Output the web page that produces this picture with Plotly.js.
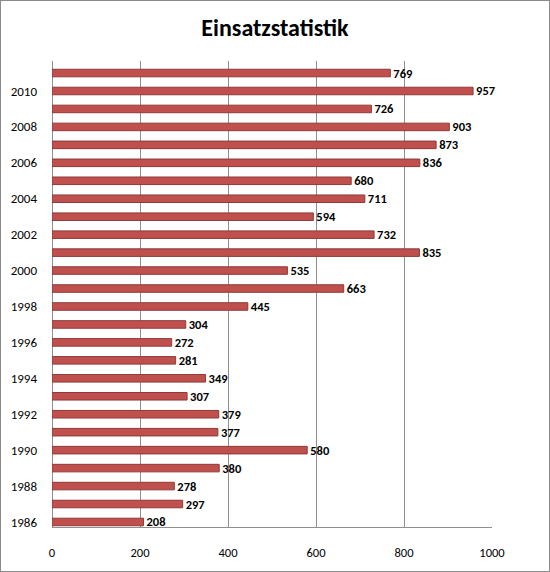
<!DOCTYPE html>
<html>
<head>
<meta charset="utf-8">
<script src="https://cdn.plot.ly/plotly-3.0.1.min.js"></script>
<style>
  html, body { margin: 0; padding: 0; background: #fff; }
  #chart { width: 548px; height: 570px; border: 1px solid #8a8a8a; }
</style>
</head>
<body>
<div id="chart"></div>
<script>
// Einsätze pro Jahr, 1986 bis 2011
const years = [1986, 1987, 1988, 1989, 1990, 1991, 1992, 1993, 1994, 1995, 1996, 1997, 1998,
               1999, 2000, 2001, 2002, 2003, 2004, 2005, 2006, 2007, 2008, 2009, 2010, 2011];
const einsaetze = [208, 297, 278, 380, 580, 377, 379, 307, 349, 281, 272, 304, 445,
                   663, 535, 835, 732, 594, 711, 680, 836, 873, 903, 726, 957, 769];
const xTicks = [0, 200, 400, 600, 800, 1000];

const font = 'Calibri, Carlito, "Liberation Sans", Arial, sans-serif';

let trace = {
    type: 'bar',
    orientation: 'h',
    x: einsaetze,
    y: years,
    width: 0.42,
    marker: {
        color: '#c0504d',
        line: { color: '#8e3a38', width: 1 }
    },
    text: einsaetze.map(v => '<b>' + v + '</b>'),
    textposition: 'outside',
    constraintext: 'none',
    cliponaxis: false,
    textfont: { family: font, size: 12.5, color: '#000' },
    hoverinfo: 'x+y'
};

let layout = {
    width: 548,
    height: 570,
    margin: { l: 51, r: 57, t: 60, b: 44 },
    paper_bgcolor: '#fff',
    plot_bgcolor: '#fff',
    showlegend: false,
    title: {
        text: '<b>Einsatzstatistik</b>',
        font: { family: font, size: 24, color: '#000' },
        x: 0.5,
        xanchor: 'center',
        y: 0.953,
        yanchor: 'middle'
    },
    xaxis: {
        range: [0, 1000],
        tickvals: xTicks,
        showgrid: true,
        gridcolor: '#8f8f8f',
        gridwidth: 1,
        zeroline: true,
        zerolinecolor: '#8f8f8f',
        showline: true,
        linecolor: '#8f8f8f',
        ticks: '',
        ticklabelstandoff: 14,
        tickfont: { family: font, size: 12.5, color: '#000' },
        fixedrange: true
    },
    yaxis: {
        range: [1985.72, 2011.67],
        tickmode: 'linear',
        tick0: 1986,
        dtick: 2,
        showgrid: false,
        zeroline: false,
        showline: false,
        ticks: '',
        ticklabelstandoff: 14,
        tickfont: { family: font, size: 13, color: '#000' },
        fixedrange: true
    }
};

Plotly.newPlot('chart', [trace], layout, { displayModeBar: false, staticPlot: true });
</script>
</body>
</html>
